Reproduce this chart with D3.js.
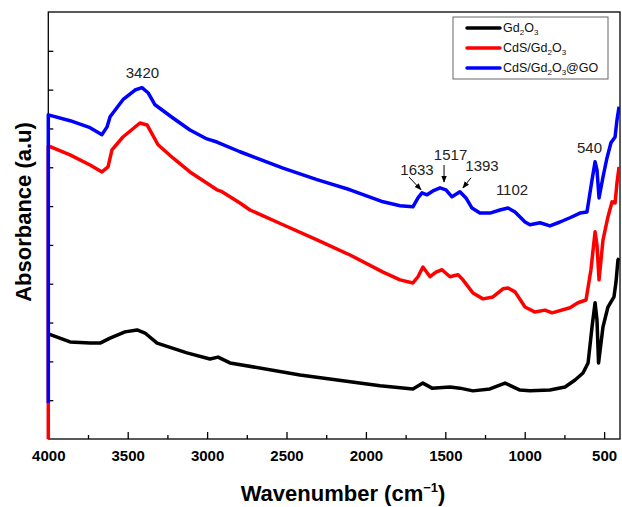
<!DOCTYPE html>
<html>
<head>
<meta charset="utf-8">
<script src="https://cdn.jsdelivr.net/npm/d3@7"></script>
<style>
	body { margin: 0; background: #fff; }
	text { font-family: Arial, "Liberation Sans", sans-serif; }
</style>
</head>
<body>
<div id="chart"></div>
<script>

//----------------------------
// Data (wavenumber, absorbance a.u.)
//----------------------------

var seriesNames = ["Gd2O3", "CdS/Gd2O3", "CdS/Gd2O3@GO"];
var seriesColors = ["#000000", "#ff0000", "#0000ff"];

var gd2o3 = [[4000,2.71],[3863,2.50],[3737,2.47],[3674,2.47],[3611,2.60],[3517,2.76],[3441,2.81],[3391,2.73],
	[3315,2.47],[3127,2.22],[2982,2.06],[2931,2.11],[2856,1.96],[2415,1.65],[1911,1.37],[1704,1.29],[1641,1.44],
	[1584,1.31],[1471,1.34],[1408,1.31],[1326,1.24],[1219,1.29],[1124,1.44],[1030,1.26],[967,1.24],[841,1.26],
	[746,1.34],[683,1.52],[633,1.70],[601,1.96],[576,2.89],[557,3.51],[545,3.07],[535,1.96],[507,2.89],[476,3.40],
	[450,3.58],[438,3.66],[425,4.05],[413,4.61],[406,4.66]];

var cdsGd2o3 = [[4000,-0.15],[4000,7.55],[3863,7.32],[3737,7.06],[3662,6.88],[3624,7.01],[3599,7.45],[3530,7.78],
	[3423,8.14],[3378,8.09],[3309,7.58],[3215,7.24],[3108,6.88],[2938,6.42],[2906,6.37],[2793,6.08],[2730,5.90],
	[2522,5.52],[2308,5.13],[2100,4.74],[1892,4.30],[1785,4.10],[1704,4.02],[1672,4.18],[1641,4.43],[1596,4.18],
	[1559,4.30],[1521,4.36],[1471,4.18],[1420,4.23],[1389,4.10],[1326,3.76],[1263,3.61],[1200,3.66],[1137,3.87],
	[1105,3.89],[1061,3.79],[998,3.40],[935,3.27],[872,3.32],[828,3.25],[715,3.38],[665,3.51],[614,3.58],[583,4.36],
	[557,5.34],[545,5.00],[532,4.10],[507,5.13],[476,5.72],[450,6.11],[431,6.08],[419,6.60],[406,7.01]];

var cdsGd2o3Go = [[4000,0.93],[4000,8.35],[3863,8.20],[3737,8.02],[3662,7.84],[3630,8.04],[3611,8.30],[3530,8.74],
	[3454,8.99],[3410,9.05],[3372,8.92],[3328,8.61],[3215,8.27],[3108,7.96],[3001,7.73],[2938,7.65],[2793,7.40],
	[2522,6.98],[2308,6.68],[2100,6.42],[1892,6.11],[1785,6.01],[1704,5.98],[1672,6.21],[1647,6.34],[1615,6.29],
	[1578,6.39],[1533,6.47],[1496,6.42],[1458,6.24],[1408,6.37],[1370,6.21],[1332,5.95],[1282,5.82],[1219,5.82],
	[1156,5.90],[1105,5.95],[1061,5.85],[998,5.59],[967,5.52],[904,5.57],[841,5.49],[778,5.59],[715,5.70],[652,5.82],
	[608,5.85],[576,6.68],[557,7.14],[545,6.93],[532,6.21],[507,6.75],[482,7.24],[457,7.63],[431,7.78],[419,8.22],
	[406,8.56]];

var xMajorTicks = [4000, 3500, 3000, 2500, 2000, 1500, 1000, 500];
var xMinorTicks = [3750, 3250, 2750, 2250, 1750, 1250, 750];
var yTicks = [1, 2, 3, 4, 5, 6, 7, 8, 9, 10];

// peak labels: text, text position (wn, a.u.)
var peakLabels = [
	{label: "3420", wn: 3407, val: 9.30},
	{label: "1633", wn: 1678, val: 6.80},
	{label: "1517", wn: 1467, val: 7.19},
	{label: "1393", wn: 1269, val: 6.91},
	{label: "1102", wn: 1080, val: 6.29},
	{label: "540", wn: 592, val: 7.37}
];

// arrows: from (wn, a.u.) to (wn, a.u.)
var peakArrows = [
	[[1729, 6.75], [1653, 6.42]],
	[[1508, 7.06], [1508, 6.62]],
	[[1338, 6.73], [1389, 6.47]]
];

//----------------------------
// Layout
//----------------------------

var totwidth = 622,
	totheight = 507,
	padLeft = 48.3,
	padRight = 620,
	padTop = 12,
	padBottom = 439;

var svg = d3.select("#chart").append("svg")
	.attr("width", totwidth)
	.attr("height", totheight);

var x = d3.scaleLinear().domain([4000, 400]).range([padLeft, padRight]);
var y = d3.scaleLinear().domain([0, 11]).range([padBottom, padTop]);

// Frame

svg.append("rect")
	.attr("x", padLeft)
	.attr("y", padTop)
	.attr("width", padRight - padLeft)
	.attr("height", padBottom - padTop)
	.attr("fill", "none")
	.attr("stroke", "#000")
	.attr("stroke-width", 1.3);

// Ticks (inward)

svg.append("g")
	.attr("transform", "translate(0," + padBottom + ")")
	.call(d3.axisBottom(x).tickValues(xMajorTicks).tickSizeInner(-7).tickSizeOuter(0).tickPadding(11).tickFormat(d3.format("d")))
	.call(function(g) {
		g.select(".domain").remove();
		g.selectAll("line").attr("stroke-width", 1.3);
		g.selectAll("text")
			.attr("font-size", 15)
			.attr("font-weight", "bold")
			.attr("font-family", "Arial, 'Liberation Sans', sans-serif")
			.attr("fill", "#000");
	});

svg.append("g")
	.attr("transform", "translate(0," + padBottom + ")")
	.call(d3.axisBottom(x).tickValues(xMinorTicks).tickSizeInner(-4).tickSizeOuter(0).tickFormat(""))
	.call(function(g) {
		g.select(".domain").remove();
		g.selectAll("line").attr("stroke-width", 1.3);
	});

svg.append("g")
	.attr("transform", "translate(" + padLeft + ",0)")
	.call(d3.axisLeft(y).tickValues(yTicks).tickSizeInner(-5).tickSizeOuter(0).tickFormat(""))
	.call(function(g) {
		g.select(".domain").remove();
		g.selectAll("line").attr("stroke-width", 1.3);
	});

// Axis titles

var xt = svg.append("text")
	.attr("x", 343)
	.attr("y", 501)
	.attr("text-anchor", "middle")
	.attr("font-size", 22)
	.attr("font-weight", "bold")
	.text("Wavenumber (cm");
xt.append("tspan").attr("font-size", 13).attr("dy", -9).text("\u22121");
xt.append("tspan").attr("dy", 9).text(")");

svg.append("text")
	.attr("transform", "translate(31,212) rotate(-90)")
	.attr("text-anchor", "middle")
	.attr("font-size", 22)
	.attr("font-weight", "bold")
	.text("Absorbance (a.u)");

// Spectra

svg.append("clipPath")
	.attr("id", "plotclip")
	.append("rect")
	.attr("x", padLeft - 3)
	.attr("y", padTop)
	.attr("width", padRight - padLeft + 3)
	.attr("height", padBottom - padTop);

var linefun = d3.line()
	.x(function(d) { return x(d[0]); })
	.y(function(d) { return y(d[1]); });

svg.append("g")
	.attr("clip-path", "url(#plotclip)")
	.selectAll("path").data([gd2o3, cdsGd2o3, cdsGd2o3Go]).enter().append("path")
	.attr("fill", "none")
	.attr("stroke", function(d, i) { return seriesColors[i]; })
	.attr("stroke-width", 3.5)
	.attr("stroke-linejoin", "round")
	.attr("d", linefun);

// Peak labels and arrows

svg.append("defs").append("marker")
	.attr("id", "arrowhead")
	.attr("viewBox", "0 0 10 10")
	.attr("refX", 9)
	.attr("refY", 5)
	.attr("markerWidth", 7)
	.attr("markerHeight", 7)
	.attr("orient", "auto")
	.attr("markerUnits", "userSpaceOnUse")
	.append("path")
	.attr("d", "M0,1L10,5L0,9Z")
	.attr("fill", "#000");

svg.append("g").selectAll("text").data(peakLabels).enter().append("text")
	.attr("x", function(d) { return x(d.wn); })
	.attr("y", function(d) { return y(d.val); })
	.attr("text-anchor", "middle")
	.attr("font-size", 15)
	.attr("fill", "#222")
	.text(function(d) { return d.label; });

svg.append("g").selectAll("line").data(peakArrows).enter().append("line")
	.attr("x1", function(d) { return x(d[0][0]); })
	.attr("y1", function(d) { return y(d[0][1]); })
	.attr("x2", function(d) { return x(d[1][0]); })
	.attr("y2", function(d) { return y(d[1][1]); })
	.attr("stroke", "#000")
	.attr("stroke-width", 1)
	.attr("marker-end", "url(#arrowhead)");

// Legend

var legend = svg.append("g");

legend.append("rect")
	.attr("x", 453)
	.attr("y", 17)
	.attr("width", 155)
	.attr("height", 62)
	.attr("fill", "#fff")
	.attr("stroke", "#666")
	.attr("stroke-width", 1);

var legendRows = legend.selectAll("g.row").data(seriesNames).enter().append("g")
	.attr("class", "row")
	.attr("transform", function(d, i) { return "translate(0," + (28 + i * 20) + ")"; });

legendRows.append("line")
	.attr("x1", 467)
	.attr("x2", 500)
	.attr("stroke", function(d, i) { return seriesColors[i]; })
	.attr("stroke-width", 3.5)
	.attr("stroke-linecap", "round");

legendRows.append("text")
	.attr("x", 503)
	.attr("y", 4)
	.attr("font-size", 12.5)
	.attr("fill", "#111")
	.each(function(d) {
		var t = d3.select(this);
		var shift = 0;
		// split at digits to make subscripts
		d.split(/(\d)/).forEach(function(part) {
			if (part === "") return;
			if (/\d/.test(part)) {
				t.append("tspan").attr("font-size", 8).attr("dy", 3 - shift).text(part);
				shift = 3;
			} else {
				t.append("tspan").attr("dy", -shift).text(part);
				shift = 0;
			}
		});
	});

</script>
</body>
</html>
